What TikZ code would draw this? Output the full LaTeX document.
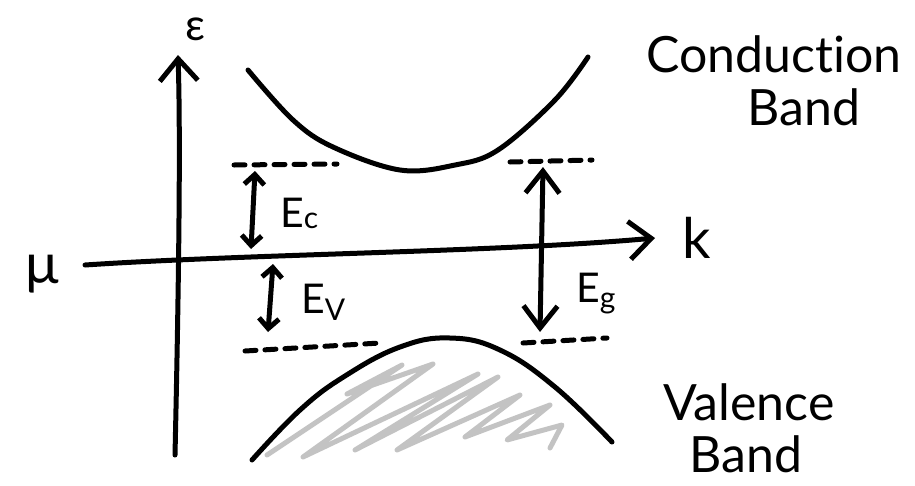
\documentclass[tikz,border=0pt]{standalone}
\usepackage{fontspec}
\setmainfont{Lato}[Ligatures=NoCommon]
\usetikzlibrary{arrows.meta}
\tikzset{
  ink/.style={line width=5pt, line cap=round, line join=round, black},
  dashink/.style={ink, dash pattern=on 11pt off 9pt},
  hatch/.style={line width=5pt, line cap=round, line join=round, color=hatchgray},
  bigbarb/.style={-{Straight Barb[length=22pt,width=38pt,line width=5pt]}},
  smallbarb/.style={{Straight Barb[length=10pt,width=20pt]}-{Straight Barb[length=10pt,width=20pt]}},
  gapbarb/.style={{Straight Barb[length=22pt,width=34pt]}-{Straight Barb[length=22pt,width=34pt]}},
  lbl/.style={inner sep=0pt, font=\fontsize{50}{54}\selectfont},
  sym/.style={inner sep=0pt}
}
\definecolor{hatchgray}{RGB}{195,195,195}
\begin{document}
\begin{tikzpicture}[x=1pt,y=-1pt]
\useasboundingbox (0,0) rectangle (915,485);
% coordinates
\coordinate (yb) at (175,455);
\coordinate (yt) at (178,55);
\coordinate (xl) at (85,265);
\coordinate (xr) at (655,238);
% hatching
\draw[hatch] (267,455) -- (402,365) -- (347,394) -- (433,364) -- (303,457) -- (478,374)
  -- (355,450) -- (498,377) -- (397,450) -- (520,395) -- (465,437) -- (550,405)
  -- (507,440) -- (562,425) -- (550,448);
% axes
\draw[ink,bigbarb] (yb) .. controls (178,320) and (181,150) .. (yt);
\draw[ink,bigbarb] (xl) .. controls (250,254) and (500,252) .. (xr);
% bands
\draw[ink] plot[smooth,tension=0.6] coordinates {(248,70) (293,120) (333,147) (400,170) (455,165) (498,150) (555,100) (588,57)};
\draw[ink] plot[smooth,tension=0.7] coordinates {(252,460) (300,410) (345,376) (400,347) (450,338) (500,350) (555,387) (612,442)};
% dashed levels
\coordinate (dl1a) at (234,165); \coordinate (dl1b) at (337,164);
\coordinate (dr1a) at (510,162); \coordinate (dr1b) at (592,160);
\coordinate (dl2a) at (245,351); \coordinate (dl2b) at (380,343);
\coordinate (dr2a) at (523,343); \coordinate (dr2b) at (607,338);
\draw[dashink] (dl1a) -- (dl1b);
\draw[dashink] (dr1a) -- (dr1b);
\draw[dashink] (dl2a) -- (dl2b);
\draw[dashink] (dr2a) -- (dr2b);
% double arrows
\coordinate (ect) at (255,171); \coordinate (ecb) at (251,249);
\coordinate (evt) at (273,264); \coordinate (evb) at (268,332);
\coordinate (egt) at (543,167); \coordinate (egb) at (540,332);
\draw[ink,smallbarb] (ect) -- (ecb);
\draw[ink,smallbarb] (evt) -- (evb);
\draw[ink,gapbarb] (egt) -- (egb);
% labels
\node[sym,font=\fontsize{44}{46}\selectfont,anchor=base] (eps) at (195,40) {ε};
\node[sym,font=\fontsize{56}{58}\selectfont] (mu) at (42,274) {μ};
\node[sym,font=\fontsize{56}{58}\selectfont,anchor=base] (k) at (697,258) {k};
\node[sym,anchor=base west,font=\fontsize{41}{44}\selectfont] (Ec) at (280,227) {E\raisebox{-1pt}{\fontsize{30}{32}\selectfont c}};
\node[sym,anchor=base west,font=\fontsize{41}{44}\selectfont] (Ev) at (301,313) {E\raisebox{-7pt}{\fontsize{30}{32}\selectfont V}};
\node[sym,anchor=base west,font=\fontsize{41}{44}\selectfont] (Eg) at (576,302) {E\raisebox{-6pt}{\fontsize{30}{32}\selectfont g}};
\node[lbl,anchor=base] (cond) at (774,72) {Conduction};
\node[lbl,anchor=base] (cband) at (804,125) {Band};
\node[lbl,anchor=base] (val) at (749,420) {Valence};
\node[lbl,anchor=base] (vband) at (746,472) {Band};
\end{tikzpicture}
\end{document}
